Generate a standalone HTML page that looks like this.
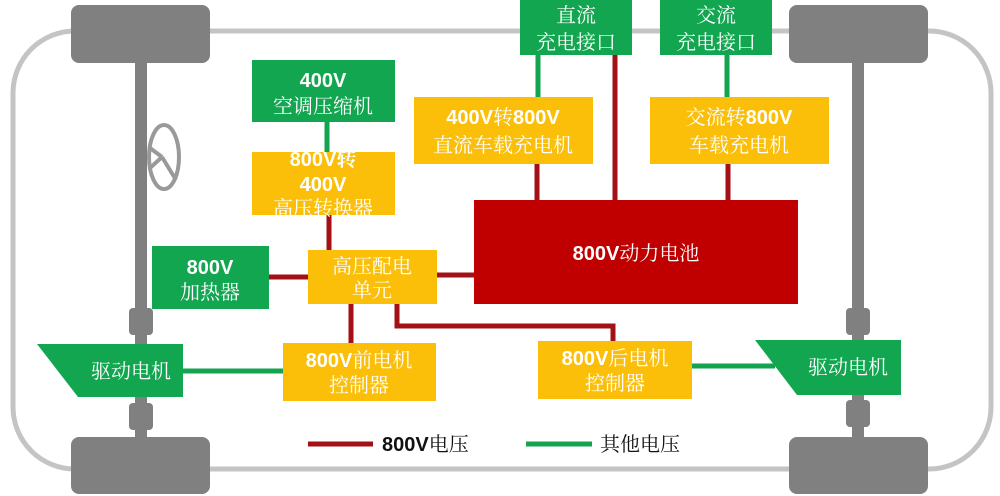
<!DOCTYPE html>
<html><head><meta charset="utf-8"><style>
html,body{margin:0;padding:0;background:#fff;width:1000px;height:496px;overflow:hidden}
svg text{font-family:"Liberation Sans","Noto Serif CJK SC",serif;}
</style></head><body>
<svg width="1000" height="496" viewBox="0 0 1000 496" xmlns="http://www.w3.org/2000/svg">
<rect x="13" y="31" width="978" height="438" rx="62" fill="none" stroke="#c4c4c4" stroke-width="5"/>
<rect x="135" y="60" width="12" height="380" fill="#808080"/>
<rect x="852" y="60" width="12" height="380" fill="#808080"/>
<rect x="129" y="308" width="24" height="27" rx="4" fill="#808080"/>
<rect x="129" y="403" width="24" height="27" rx="4" fill="#808080"/>
<rect x="846" y="308" width="24" height="27" rx="4" fill="#808080"/>
<rect x="846" y="400" width="24" height="27" rx="4" fill="#808080"/>
<rect x="71" y="5" width="139" height="58" rx="8" fill="#808080"/>
<rect x="71" y="437" width="139" height="57" rx="8" fill="#808080"/>
<rect x="789" y="5" width="139" height="58" rx="8" fill="#808080"/>
<rect x="789" y="437" width="139" height="57" rx="8" fill="#808080"/>
<ellipse cx="164" cy="157" rx="15" ry="32" fill="none" stroke="#999" stroke-width="4"/>
<path d="M162 157 L150 148 M162 157 L150 168 M162 157 L176 180" stroke="#999" stroke-width="4"/>
<g stroke="#14a34f" stroke-width="5">
<line x1="327" y1="122" x2="327" y2="152"/>
<line x1="538" y1="55" x2="538" y2="97"/>
<line x1="727" y1="55" x2="727" y2="97"/>
<line x1="183" y1="371" x2="283" y2="371"/>
<line x1="692" y1="366" x2="775" y2="366"/>
<line x1="526" y1="444" x2="592" y2="444"/>
</g>
<g stroke="#a31015" stroke-width="5" fill="none">
<line x1="329" y1="215" x2="329" y2="250"/>
<line x1="269" y1="277" x2="308" y2="277"/>
<line x1="437" y1="275" x2="474" y2="275"/>
<line x1="351" y1="304" x2="351" y2="343"/>
<polyline points="397,304 397,326 613,326 613,341"/>
<line x1="537" y1="164" x2="537" y2="200"/>
<line x1="615" y1="55" x2="615" y2="200"/>
<line x1="728" y1="164" x2="728" y2="200"/>
<line x1="308" y1="444" x2="373" y2="444"/>
</g>
<g fill="#12a650">
<rect x="252" y="60" width="143" height="62"/>
<rect x="152" y="246" width="117" height="63"/>
<rect x="520" y="0" width="112" height="55"/>
<rect x="660" y="0" width="112" height="55"/>
<polygon points="37,344 183,344 183,397 78,397"/>
<polygon points="755,340 901,340 901,395 797,395"/>
</g>
<g fill="#fbbf0a">
<rect x="252" y="152" width="143" height="63"/>
<rect x="308" y="250" width="129" height="54"/>
<rect x="283" y="343" width="153" height="58"/>
<rect x="538" y="341" width="154" height="58"/>
<rect x="414" y="97" width="179" height="67"/>
<rect x="650" y="97" width="179" height="67"/>
</g>
<rect x="474" y="200" width="324" height="104" fill="#c00000"/>
<g fill="#fff" font-size="20" text-anchor="middle">
<text x="323" y="87" font-weight="bold">400V</text>
<text x="323" y="113">空调压缩机</text>
<text x="323" y="166" font-weight="bold">800V转</text>
<text x="323" y="191" font-weight="bold">400V</text>
<text x="323" y="215">高压转换器</text>
<text x="210" y="274" font-weight="bold">800V</text>
<text x="210" y="299">加热器</text>
<text x="372" y="273">高压配电</text>
<text x="372" y="297">单元</text>
<text x="359" y="367"><tspan font-weight="bold">800V</tspan>前电机</text>
<text x="359" y="392">控制器</text>
<text x="615" y="365"><tspan font-weight="bold">800V</tspan>后电机</text>
<text x="615" y="390">控制器</text>
<text x="503" y="124"><tspan font-weight="bold">400V</tspan>转<tspan font-weight="bold">800V</tspan></text>
<text x="503" y="152">直流车载充电机</text>
<text x="739" y="124">交流转<tspan font-weight="bold">800V</tspan></text>
<text x="739" y="152">车载充电机</text>
<text x="576" y="22">直流</text>
<text x="576" y="49">充电接口</text>
<text x="716" y="22">交流</text>
<text x="716" y="49">充电接口</text>
<text x="131" y="378">驱动电机</text>
<text x="848" y="374">驱动电机</text>
<text x="636" y="260"><tspan font-weight="bold">800V</tspan>动力电池</text>
</g>
<g fill="#111" font-size="20">
<text x="382" y="451"><tspan font-weight="bold">800V</tspan>电压</text>
<text x="600" y="451">其他电压</text>
</g>
</svg>
</body></html>
